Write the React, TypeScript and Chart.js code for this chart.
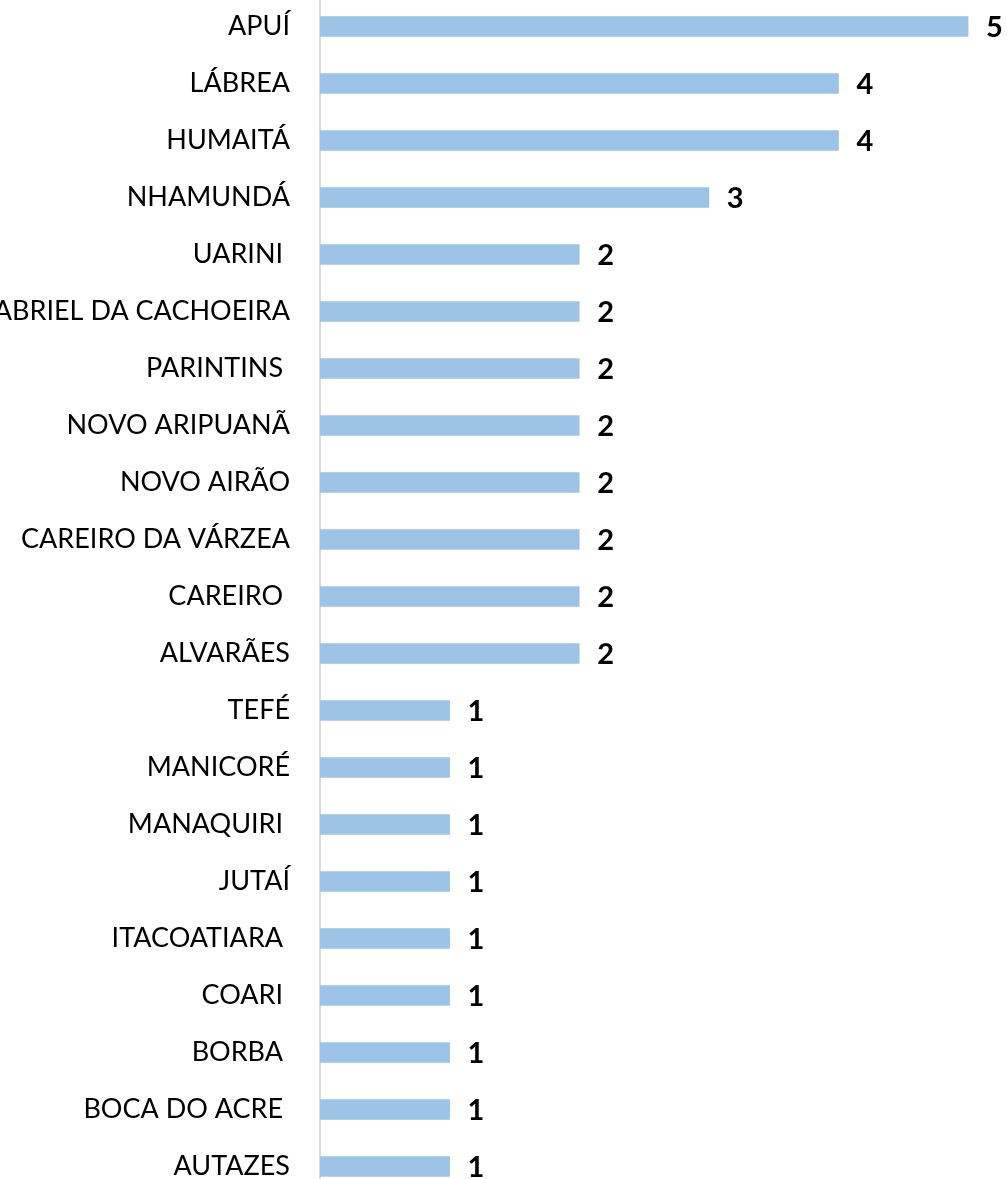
import React, { useEffect, useRef } from "react";
import { Chart, registerables } from "chart.js";

Chart.register(...registerables);

const categories = [
  "APUÍ",
  "LÁBREA",
  "HUMAITÁ",
  "NHAMUNDÁ",
  "UARINI ",
  "SÃO GABRIEL DA CACHOEIRA",
  "PARINTINS ",
  "NOVO ARIPUANÃ",
  "NOVO AIRÃO",
  "CAREIRO DA VÁRZEA",
  "CAREIRO ",
  "ALVARÃES",
  "TEFÉ",
  "MANICORÉ",
  "MANAQUIRI ",
  "JUTAÍ",
  "ITACOATIARA ",
  "COARI ",
  "BORBA ",
  "BOCA DO ACRE ",
  "AUTAZES",
];

const values = [5, 4, 4, 3, 2, 2, 2, 2, 2, 2, 2, 2, 1, 1, 1, 1, 1, 1, 1, 1, 1];

const xMin = 0;
const xMax = 5.3;

const OFFSET_LEFT = 300;
const CANVAS_W = 1007 + OFFSET_LEFT;
const CANVAS_H = 1197;

const valueLabelPlugin = {
  id: "valueLabels",
  afterDatasetsDraw(chart: any) {
    const ctx = chart.ctx;
    const meta = chart.getDatasetMeta(0);
    ctx.save();
    ctx.font = "bold 29px Lato";
    ctx.fillStyle = "#000000";
    ctx.textAlign = "left";
    ctx.textBaseline = "middle";
    meta.data.forEach((bar: any, i: number) => {
      ctx.fillText(String(values[i]), bar.x + 18, bar.y + 1);
    });
    ctx.restore();
  },
};

export default function App() {
  const ref = useRef<HTMLCanvasElement | null>(null);

  useEffect(() => {
    if (!ref.current) return;
    const chart = new Chart(ref.current, {
      type: "bar",
      data: {
        labels: categories,
        datasets: [
          {
            data: values,
            backgroundColor: "#9DC3E6",
            borderWidth: 0,
            barThickness: 20,
          },
        ],
      },
      options: {
        indexAxis: "y",
        responsive: false,
        animation: false,
        devicePixelRatio: 1,
        layout: { padding: 0, autoPadding: false },
        plugins: {
          legend: { display: false },
          tooltip: { enabled: false },
        },
        scales: {
          x: {
            display: false,
            min: xMin,
            max: xMax,
          },
          y: {
            afterFit: (axis: any) => {
              axis.width = OFFSET_LEFT + 320;
              axis.paddingTop = 0;
              axis.paddingBottom = 0;
            },
            grid: { display: false, drawTicks: false },
            border: { display: true, color: "#D9D9D9", width: 2 },
            ticks: {
              color: "#000000",
              padding: 30,
              font: { family: "Lato", size: 27 },
            },
          },
        },
      },
      plugins: [valueLabelPlugin],
    });
    return () => chart.destroy();
  }, []);

  return (
    <div
      style={{
        position: "fixed",
        left: 0,
        top: 0,
        width: 1007,
        height: 1179,
        overflow: "hidden",
        background: "#ffffff",
      }}
    >
      <canvas
        ref={ref}
        width={CANVAS_W}
        height={CANVAS_H}
        style={{
          position: "absolute",
          left: -OFFSET_LEFT,
          top: -2,
          width: CANVAS_W,
          height: CANVAS_H,
        }}
      />
    </div>
  );
}
